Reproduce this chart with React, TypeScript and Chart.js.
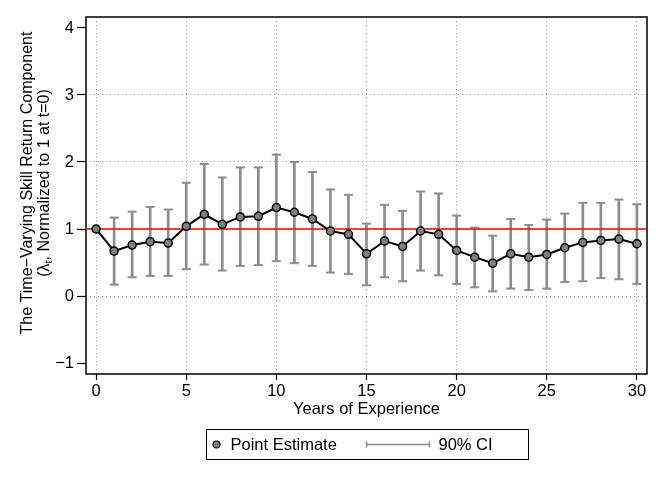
import React, { useEffect, useRef } from 'react'
import { Chart, registerables } from 'chart.js'

Chart.register(...registerables)

const years = [0, 1, 2, 3, 4, 5, 6, 7, 8, 9, 10, 11, 12, 13, 14, 15, 16, 17, 18, 19, 20, 21, 22, 23, 24, 25, 26, 27, 28, 29, 30]
const estimate = [1.0, 0.67, 0.76, 0.81, 0.79, 1.04, 1.22, 1.07, 1.18, 1.19, 1.32, 1.25, 1.15, 0.97, 0.92, 0.63, 0.82, 0.74, 0.97, 0.92, 0.68, 0.58, 0.49, 0.63, 0.58, 0.62, 0.72, 0.8, 0.83, 0.85, 0.78]
const ciLow = [null, 0.17, 0.28, 0.3, 0.3, 0.4, 0.47, 0.38, 0.45, 0.46, 0.52, 0.49, 0.45, 0.35, 0.33, 0.16, 0.28, 0.22, 0.38, 0.31, 0.18, 0.13, 0.07, 0.11, 0.09, 0.11, 0.21, 0.22, 0.27, 0.25, 0.18]
const ciHigh = [null, 1.17, 1.26, 1.33, 1.29, 1.69, 1.97, 1.77, 1.92, 1.92, 2.11, 2.0, 1.85, 1.59, 1.51, 1.08, 1.36, 1.27, 1.56, 1.53, 1.2, 1.02, 0.9, 1.15, 1.06, 1.14, 1.23, 1.39, 1.39, 1.44, 1.37]
const xTicks = [0, 5, 10, 15, 20, 25, 30]
const yTicks = [-1, 0, 1, 2, 3, 4]
const yGridTicks = [0, 1, 2, 3]
const refLevel = 1

const X_MIN = -0.56
const X_MAX = 30.56
const Y_MIN = -1.164
const Y_MAX = 4.164

const FONT = '"Liberation Sans", Arial, Helvetica, sans-serif'
const FONT_SIZE = 16.5
const TITLE_SIZE = 16
const CI_GRAY = '#8c8c8c'
const POINT_GRAY = '#808080'
const GRID_GRAY = '#9a9a9a'

const yTitleLine1 = 'The Time\u2212Varying Skill Return Component'
const yTitleLine2 = ['(\u03bb', 't', ', Normalized to 1 at t=0)']

// frame round the plot area, drawn above the grid
const framePlugin = {
  id: 'frame',
  beforeDatasetsDraw(chart: any) {
    const { ctx, chartArea: a } = chart
    ctx.save()
    ctx.strokeStyle = '#000'
    ctx.lineWidth = 1.5
    ctx.strokeRect(a.left, a.top, a.right - a.left, a.bottom - a.top)
    ctx.restore()
  },
}

// two-line rotated y title with a subscript, plus the boxed legend
const textPlugin = {
  id: 'extraText',
  afterDraw(chart: any) {
    const { ctx, chartArea: a } = chart
    const font = `${FONT_SIZE}px ${FONT}`
    const tFont = `${TITLE_SIZE}px ${FONT}`
    const small = `${TITLE_SIZE * 0.7}px ${FONT}`
    const midY = 183

    ctx.save()
    ctx.fillStyle = '#000'
    ctx.textBaseline = 'middle'

    ctx.save()
    ctx.translate(28, midY)
    ctx.rotate(-Math.PI / 2)
    ctx.font = tFont
    ctx.textAlign = 'center'
    ctx.fillText(yTitleLine1, 0, 0)
    ctx.restore()

    ctx.save()
    ctx.translate(45, midY)
    ctx.rotate(-Math.PI / 2)
    ctx.textAlign = 'left'
    ctx.font = tFont
    const w0 = ctx.measureText(yTitleLine2[0]).width
    const w2 = ctx.measureText(yTitleLine2[2]).width
    ctx.font = small
    const w1 = ctx.measureText(yTitleLine2[1]).width
    let x = -(w0 + w1 + w2) / 2
    ctx.font = tFont
    ctx.fillText(yTitleLine2[0], x, 0)
    x += w0
    ctx.font = small
    ctx.fillText(yTitleLine2[1], x, 4)
    x += w1
    ctx.font = tFont
    ctx.fillText(yTitleLine2[2], x, 0)
    ctx.restore()

    // legend
    const bw = 322
    const bh = 30
    const bl = Math.round((a.left + a.right) / 2 - bw / 2) + 0.5
    const bt = 429.5
    const cy = bt + bh / 2
    ctx.strokeStyle = '#000'
    ctx.lineWidth = 1
    ctx.strokeRect(bl, bt, bw, bh)

    ctx.beginPath()
    ctx.arc(bl + 10, cy, 3.5, 0, Math.PI * 2)
    ctx.fillStyle = POINT_GRAY
    ctx.fill()
    ctx.lineWidth = 1.2
    ctx.stroke()

    ctx.fillStyle = '#000'
    ctx.font = font
    ctx.textAlign = 'left'
    ctx.fillText('Point Estimate', bl + 24, cy + 1)

    ctx.strokeStyle = CI_GRAY
    ctx.lineWidth = 1.5
    ctx.beginPath()
    ctx.moveTo(bl + 160, cy)
    ctx.lineTo(bl + 223, cy)
    ctx.moveTo(bl + 160, cy - 3)
    ctx.lineTo(bl + 160, cy + 3)
    ctx.moveTo(bl + 223, cy - 3)
    ctx.lineTo(bl + 223, cy + 3)
    ctx.stroke()

    ctx.fillText('90% CI', bl + 232, cy + 1)
    ctx.restore()
  },
}

const App = () => {
  const canvasRef = useRef<HTMLCanvasElement>(null)

  useEffect(() => {
    const ciBars = years
      .map((x, i) => ({ x, y: [ciLow[i], ciHigh[i]] }))
      .filter((d) => d.y[0] !== null)
    const ciCaps = years
      .flatMap((x, i) => [
        { x, y: ciLow[i] },
        { x, y: ciHigh[i] },
      ])
      .filter((d) => d.y !== null)

    const chart = new Chart(canvasRef.current as HTMLCanvasElement, {
      type: 'line',
      data: {
        datasets: [
          {
            type: 'bar',
            data: ciBars as any,
            backgroundColor: CI_GRAY,
            borderWidth: 0,
            barThickness: 2,
            order: 4,
          },
          {
            type: 'line',
            data: ciCaps as any,
            showLine: false,
            pointStyle: 'line',
            pointRadius: 4.5,
            pointBorderWidth: 2,
            pointBorderColor: CI_GRAY,
            order: 3,
          },
          {
            type: 'line',
            data: [
              { x: X_MIN, y: refLevel },
              { x: X_MAX, y: refLevel },
            ],
            borderColor: '#ff0000',
            borderWidth: 1.5,
            pointRadius: 0,
            order: 2,
          },
          {
            type: 'line',
            data: years.map((x, i) => ({ x, y: estimate[i] })),
            borderColor: '#000',
            borderWidth: 2,
            tension: 0,
            pointRadius: 4,
            pointBorderWidth: 1.5,
            pointBackgroundColor: POINT_GRAY,
            pointBorderColor: '#000',
            order: 1,
          },
        ],
      },
      options: {
        animation: false,
        responsive: true,
        maintainAspectRatio: false,
        events: [],
        layout: { padding: { top: 17, right: 17, left: 0, bottom: 64 } },
        plugins: {
          legend: { display: false },
          tooltip: { enabled: false },
        },
        scales: {
          x: {
            type: 'linear',
            min: X_MIN,
            max: X_MAX,
            offset: false,
            afterBuildTicks: (scale: any) => {
              scale.ticks = xTicks.map((value) => ({ value }))
            },
            afterFit: (scale: any) => {
              scale.height = 45
            },
            ticks: {
              autoSkip: false,
              maxRotation: 0,
              padding: 2,
              color: '#000',
              font: { family: FONT, size: FONT_SIZE },
            },
            grid: {
              offset: false,
              color: GRID_GRAY,
              lineWidth: 1,
              tickLength: 6,
              tickColor: '#000',
              tickWidth: 1.2,
            },
            border: { display: false, dash: [1, 3] },
            title: {
              display: true,
              text: 'Years of Experience',
              color: '#000',
              padding: 0,
              font: { family: FONT, size: FONT_SIZE },
            },
          },
          y: {
            type: 'linear',
            min: Y_MIN,
            max: Y_MAX,
            afterBuildTicks: (scale: any) => {
              scale.ticks = yTicks.map((value) => ({ value }))
            },
            afterFit: (scale: any) => {
              scale.width = 86
            },
            ticks: {
              padding: 3,
              color: '#000',
              font: { family: FONT, size: FONT_SIZE },
              callback: (v: any) => String(v).replace('-', '\u2212'),
            },
            grid: {
              color: (c: any) => (yGridTicks.includes(c.tick?.value) ? GRID_GRAY : 'rgba(0,0,0,0)'),
              lineWidth: 1,
              tickLength: 9,
              tickColor: '#000',
              tickWidth: 1.2,
            },
            border: { display: false, dash: [1, 3] },
          },
        },
      },
      plugins: [framePlugin, textPlugin],
    } as any)

    return () => {
      chart.destroy()
    }
  }, [])

  return (
    <div style={{ position: 'absolute', left: 0, top: 0, width: 664, height: 483, background: '#fff' }}>
      <canvas ref={canvasRef} />
    </div>
  )
}

export default App
